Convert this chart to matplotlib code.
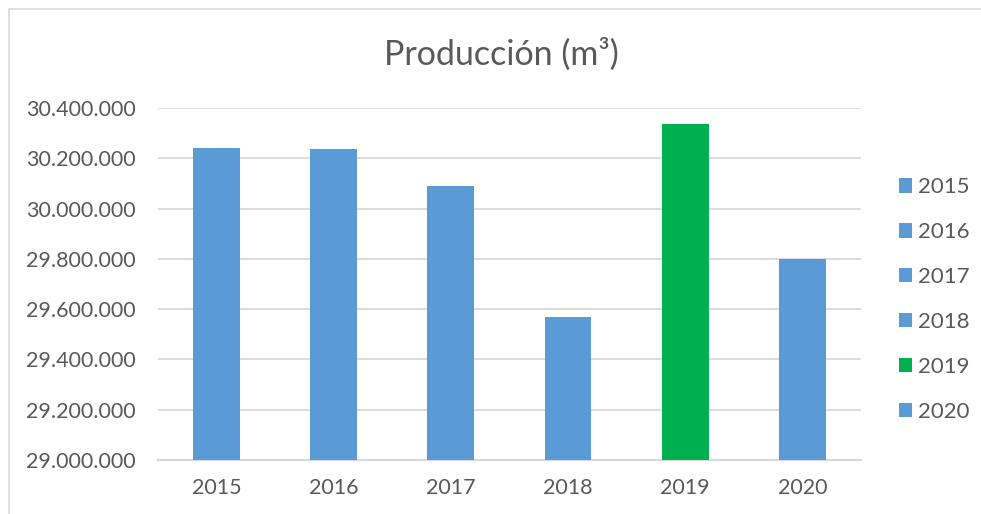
import matplotlib.pyplot as plt
from matplotlib.patches import Patch, Rectangle
from matplotlib.ticker import FuncFormatter

years = ['2015', '2016', '2017', '2018', '2019', '2020']
produccion = [30242000, 30238000, 30089000, 29567000, 30335000, 29800000]
colores = ['#5b9bd5', '#5b9bd5', '#5b9bd5', '#5b9bd5', '#00b050', '#5b9bd5']
yticks = [29000000, 29200000, 29400000, 29600000, 29800000, 30000000, 30200000, 30400000]

plt.rcParams['font.family'] = ['Lato', 'DejaVu Sans']
gris = '#595959'

fig = plt.figure(figsize=(9.81, 5.14), dpi=100)
ax = fig.add_axes([0.161, 0.1051, 0.7166, 0.6848])

x = range(len(years))
ax.bar(x, produccion, width=0.40, color=colores, zorder=3)

ax.set_ylim(29000000, 30400000)
ax.set_xlim(-0.5, len(years) - 0.5)
ax.set_yticks(yticks)
ax.yaxis.set_major_formatter(FuncFormatter(lambda v, p: f'{int(v):,}'.replace(',', '.')))
ax.set_xticks(list(x))
ax.set_xticklabels(years)
ax.tick_params(axis='y', length=0, pad=16, labelsize=15.5, labelcolor=gris)
ax.tick_params(axis='x', length=0, pad=13, labelsize=15.5, labelcolor=gris)
ax.grid(axis='y', color='#d9d9d9', linewidth=1.3, zorder=0)
for s in ['top', 'right', 'left']:
    ax.spines[s].set_visible(False)
ax.spines['bottom'].set_color('#d9d9d9')
ax.spines['bottom'].set_linewidth(1.6)

fig.text(0.511, 1 - 54 / 514, 'Producción (m³)', ha='center', va='center',
         fontsize=24.5, color=gris)

handles = [Patch(facecolor=c, edgecolor='none') for c in colores]
fig.legend(handles, years, loc='center left', bbox_to_anchor=(0.916, 0.4173),
           frameon=False, fontsize=16, labelcolor=gris, handlelength=0.62,
           handleheight=0.62, handletextpad=0.25, labelspacing=1.12,
           borderpad=0, borderaxespad=0)

# chart border (left and top visible)
fig.patches.append(Rectangle((9 / 981, -0.1), 1.2, 1 - 9 / 514 + 0.1,
                             transform=fig.transFigure, fill=False,
                             edgecolor='#d9d9d9', linewidth=1.2))

plt.savefig('out.png', dpi=100)
